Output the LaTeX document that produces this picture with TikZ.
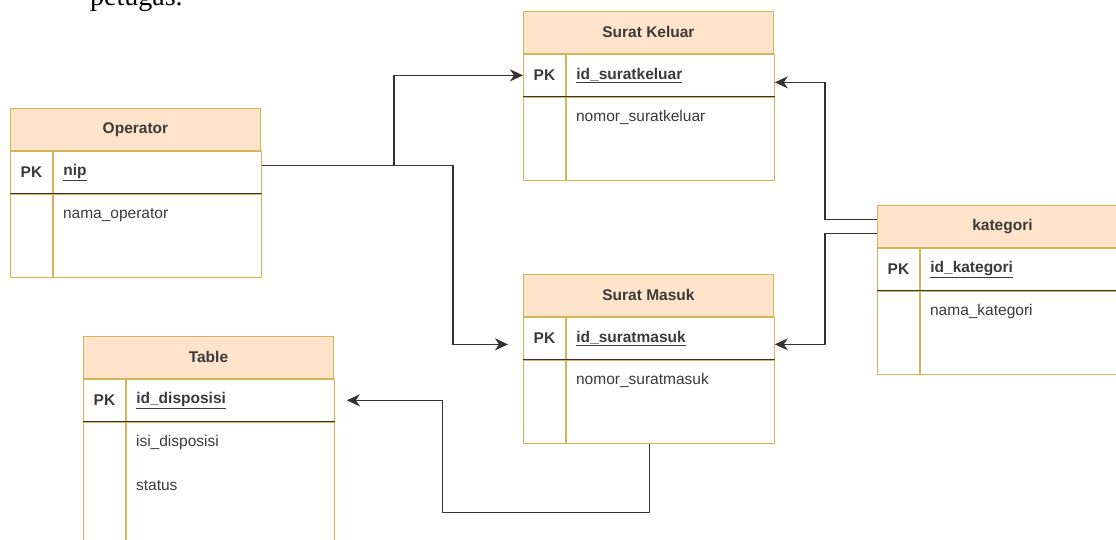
\documentclass[tikz,border=0pt]{standalone}
\usepackage{fontspec}
\setmainfont{Liberation Sans}
\newfontfamily\docserif{Liberation Serif}
\usetikzlibrary{arrows.meta, positioning}
\definecolor{erfill}{HTML}{FFE4CB}
\definecolor{erstroke}{HTML}{D3B558}
\definecolor{ertext}{HTML}{3A3A3A}
\newcommand{\erfont}{\fontsize{15.5}{18}\selectfont}

\begin{document}
\begin{tikzpicture}[x=1pt, y=-1pt,
    tblhead/.style={draw=erstroke, fill=erfill, line width=0.9pt, minimum width=250pt,
      minimum height=42pt, inner sep=0pt, text=ertext, font=\erfont\bfseries},
    pkcell/.style={draw=erstroke, line width=0.9pt, minimum width=42pt, minimum height=42pt,
      inner sep=0pt, text=ertext, font=\erfont\bfseries},
    keycell/.style={draw=erstroke, line width=0.9pt, minimum height=42pt, text width=188pt,
      inner xsep=10pt, inner ysep=0pt, align=left, text=ertext, font=\erfont\bfseries},
    pkcol/.style={draw=erstroke, line width=0.9pt, minimum width=42pt, minimum height=83pt, inner sep=0pt},
    bodycell/.style={draw=erstroke, line width=0.9pt, minimum width=208pt, minimum height=83pt, inner sep=0pt},
    attr/.style={anchor=west, inner sep=0pt, text=ertext, font=\erfont},
    rowline/.style={draw=black!80, line width=1.3pt},
    link/.style={draw=black!80, line width=1.4pt, -{Stealth[length=13pt, width=12pt, inset=4pt]}}
  ]
    \useasboundingbox (0,0) rectangle (1116,539);
    \clip (0,0) rectangle (1116,539);

    \node[anchor=base west, inner sep=0pt, font=\docserif\fontsize{28}{30}\selectfont] (pagetext) at (90,5) {petugas.};

    % Operator
    \node[tblhead, anchor=north west] (op) at (10,108) {Operator};
    \node[pkcell, anchor=north west] (op-pk) at (op.south west) {PK};
    \node[keycell, right=0pt of op-pk] (op-key) {\underline{nip}};
    \node[pkcol, below=0pt of op-pk] (op-pkc) {};
    \node[bodycell, right=0pt of op-pkc] (op-body) {};
    \node[attr] (op-a1) at ([shift={(10,21)}]op-body.north west) {nama\_operator};
    \draw[rowline] (op-pk.south west) -- (op-key.south east);

    % Surat Keluar
    \node[tblhead, anchor=north west] (sk) at (523,11) {Surat Keluar};
    \node[pkcell, anchor=north west] (sk-pk) at (sk.south west) {PK};
    \node[keycell, right=0pt of sk-pk] (sk-key) {\underline{id\_suratkeluar}};
    \node[pkcol, below=0pt of sk-pk] (sk-pkc) {};
    \node[bodycell, right=0pt of sk-pkc] (sk-body) {};
    \node[attr] (sk-a1) at ([shift={(10,21)}]sk-body.north west) {nomor\_suratkeluar};
    \draw[rowline] (sk-pk.south west) -- (sk-key.south east);

    % Surat Masuk
    \node[tblhead, anchor=north west] (sm) at (523,274) {Surat Masuk};
    \node[pkcell, anchor=north west] (sm-pk) at (sm.south west) {PK};
    \node[keycell, right=0pt of sm-pk] (sm-key) {\underline{id\_suratmasuk}};
    \node[pkcol, below=0pt of sm-pk] (sm-pkc) {};
    \node[bodycell, right=0pt of sm-pkc] (sm-body) {};
    \node[attr] (sm-a1) at ([shift={(10,21)}]sm-body.north west) {nomor\_suratmasuk};
    \draw[rowline] (sm-pk.south west) -- (sm-key.south east);

    % Table (disposisi)
    \node[tblhead, anchor=north west] (tb) at (83,336) {Table};
    \node[pkcell, anchor=north west] (tb-pk) at (tb.south west) {PK};
    \node[keycell, right=0pt of tb-pk] (tb-key) {\underline{id\_disposisi}};
    \node[pkcol, minimum height=150pt, below=0pt of tb-pk] (tb-pkc) {};
    \node[bodycell, minimum height=150pt, right=0pt of tb-pkc] (tb-body) {};
    \node[attr] (tb-a1) at ([shift={(10,21)}]tb-body.north west) {isi\_disposisi};
    \node[attr] (tb-a2) at ([shift={(0,43)}]tb-a1.west) {status};
    \draw[rowline] (tb-pk.south west) -- (tb-key.south east);

    % kategori
    \node[tblhead, anchor=north west] (kt) at (877,205) {kategori};
    \node[pkcell, anchor=north west] (kt-pk) at (kt.south west) {PK};
    \node[keycell, right=0pt of kt-pk] (kt-key) {\underline{id\_kategori}};
    \node[pkcol, below=0pt of kt-pk] (kt-pkc) {};
    \node[bodycell, right=0pt of kt-pkc] (kt-body) {};
    \node[attr] (kt-a1) at ([shift={(10,21)}]kt-body.north west) {nama\_kategori};
    \draw[rowline] (kt-pk.south west) -- (kt-key.south east);

    % relations
    \draw[link] ([yshift=7pt]op-key.east) -- ++(132,0) coordinate (opfork) |- (sk-pk.west);
    \draw[link] (opfork) -- ++(59,0) |- ([xshift=-15pt, yshift=-6pt]sm-pk.west);

    \draw[link] ([yshift=7pt]kt.west) -- ++(-52,0) |- ([yshift=-7pt]sk-key.east);
    \draw[link] ([yshift=-7pt]kt.west) -- ++(-52,0) |- ([yshift=-6pt]sm-key.east);

    \draw[link] ([xshift=-21pt]sm-body.south) -- ++(0,69) -- ++(-207,0) |- ([xshift=12pt]tb-key.east);
\end{tikzpicture}
\end{document}
